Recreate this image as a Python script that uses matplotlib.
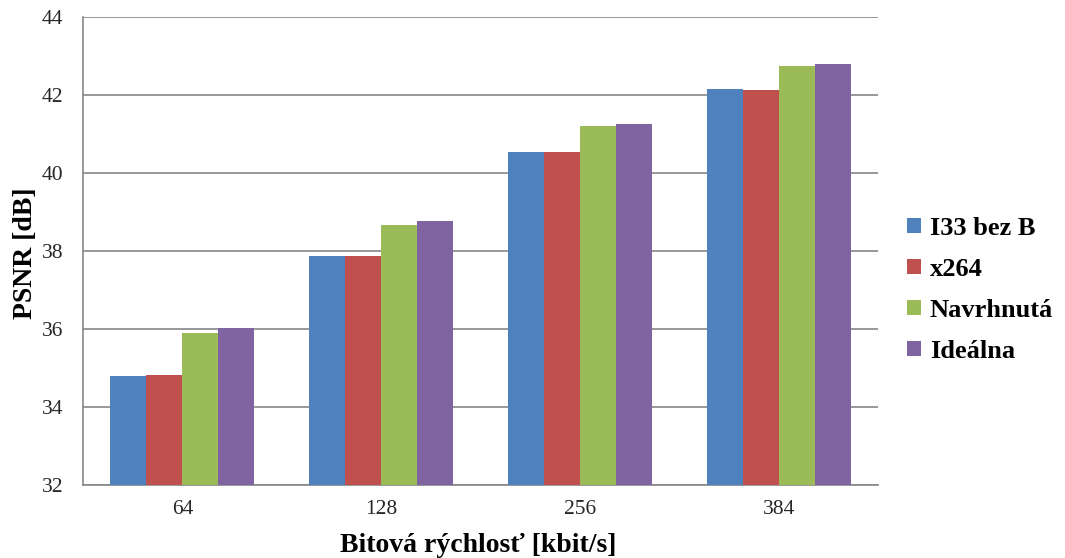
import numpy as np
import matplotlib
matplotlib.use("Agg")
from matplotlib import pyplot as plt

plt.rcParams["font.family"] = ["Liberation Serif", "DejaVu Serif"]

# PSNR per bitrate for each encoder
bitrates = ["64", "128", "256", "384"]
series_names = ["I33 bez B", "x264", "Navrhnutá", "Ideálna"]
psnr_i33 = [34.79, 37.88, 40.55, 42.16]
psnr_x264 = [34.83, 37.88, 40.55, 42.12]
psnr_navrh = [35.89, 38.67, 41.20, 42.74]
psnr_ideal = [36.02, 38.77, 41.26, 42.80]
colors = ["#4F81BD", "#C0504D", "#9BBB59", "#8064A2"]

fig = plt.figure(figsize=(10.65, 5.58), dpi=100)
ax = fig.add_axes([0.0779, 0.131, 0.7465, 0.8385])

x = np.arange(len(bitrates))
width = 0.181
all_series = [psnr_i33, psnr_x264, psnr_navrh, psnr_ideal]
for i, (name, vals, col) in enumerate(zip(series_names, all_series, colors)):
    offset = (i - 1.5) * width
    ax.bar(x + offset, np.array(vals) - 32, width, bottom=32, color=col,
           label=name, zorder=3)

ax.set_xlim(-0.5, len(bitrates) - 0.5)
ax.set_ylim(32, 44)
ax.set_yticks(np.arange(32, 45, 2))
ax.set_xticks(x)
ax.set_xticklabels(bitrates)

grid_col = "#868686"
ax.yaxis.grid(True, color=grid_col, linewidth=1.2, zorder=0)
for s in ["top", "right"]:
    ax.spines[s].set_visible(False)
for s in ["left", "bottom"]:
    ax.spines[s].set_color(grid_col)
    ax.spines[s].set_linewidth(1.2)
ax.tick_params(axis="both", length=0, labelsize=15.5, colors="#262626")
ax.tick_params(axis="x", pad=11)
ax.tick_params(axis="y", pad=14)

# axis titles placed in figure coordinates
fig.text(25 / 1065, 1 - 253 / 558, "PSNR [dB]", rotation=90, fontsize=20,
         fontweight="bold", ha="center", va="center")
fig.text(0.449, 1 - 546 / 558, "Bitová rýchlosť [kbit/s]", fontsize=20,
         fontweight="bold", ha="center", va="center")

fig.legend(loc="center left", bbox_to_anchor=(0.852, 0.48), frameon=False,
           prop={"size": 19, "weight": "bold"}, handlelength=0.5,
           handleheight=0.5, handletextpad=0.35, labelspacing=0.68,
           borderpad=0, borderaxespad=0)

fig.savefig("out.png", dpi=100)
